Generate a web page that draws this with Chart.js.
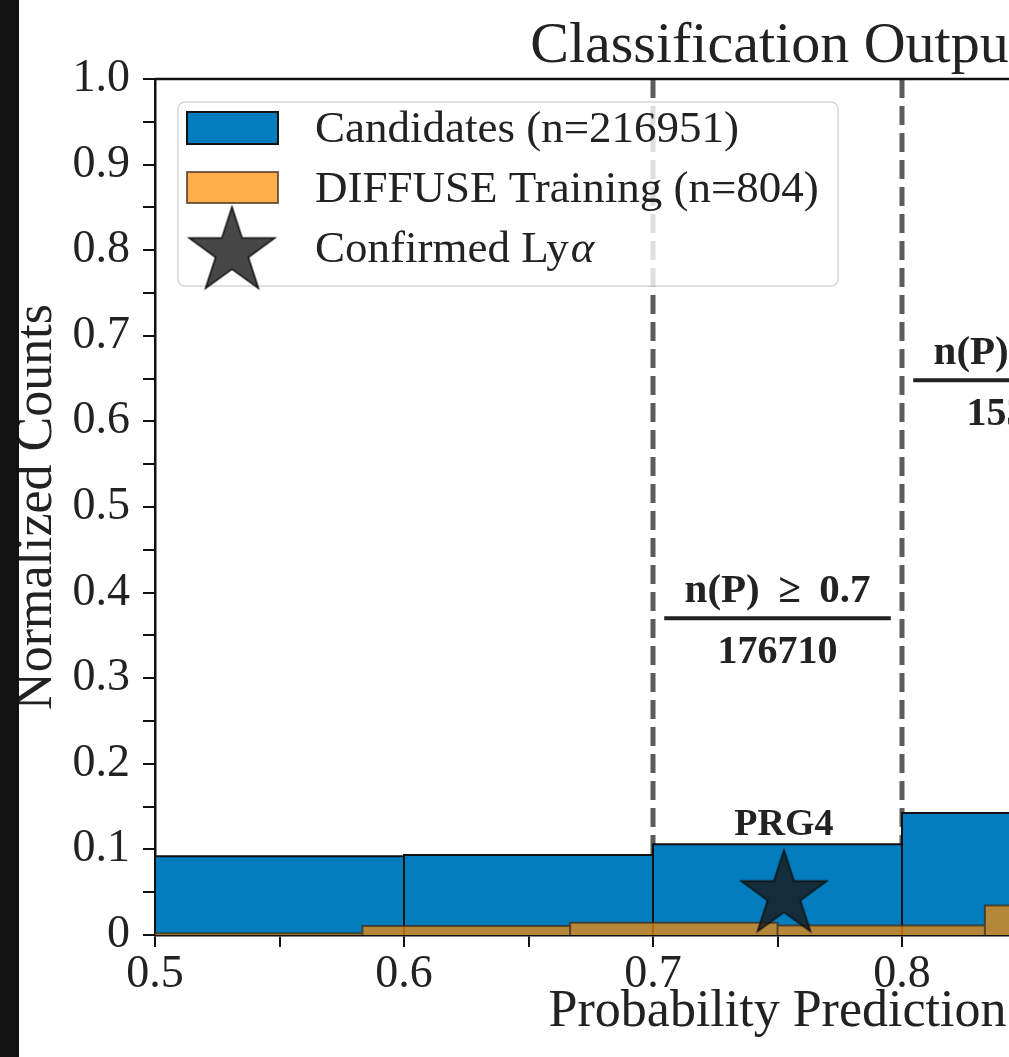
<!DOCTYPE html>
<html>
<head>
<meta charset="utf-8">
<script src="https://cdn.jsdelivr.net/npm/chart.js@4.4.1/dist/chart.umd.min.js"></script>
<style>
  body { margin: 0; background: #121212; overflow: hidden; width: 1009px; height: 1057px; }
  #wrap { position: absolute; left: 19px; top: 0; width: 1441px; height: 1057px; background: #fff; }
</style>
</head>
<body>
<div id="wrap"><canvas id="histChart"></canvas></div>
<script>
// values (normalized counts per bin)
const candEdges = [0.5, 0.6, 0.7, 0.8, 0.9];
const candCounts = [0.092, 0.0935, 0.106, 0.1425];
const trainEdges = [0.5, 0.5833, 0.6667, 0.75, 0.8333, 0.9167];
const trainCounts = [0.002, 0.0105, 0.0143, 0.011, 0.0346];
const confirmedX = [0.7526];
const confirmedY = [0.0467];
const confirmedNames = ['PRG4'];
const confirmedLabelY = [0.117];
const cutValues = [0.7, 0.8];
const cutLabels = ['n(P) \u2009\u2265\u2009 0.7', 'n(P) \u2009\u2265\u2009 0.8'];
const cutCounts = ['176710', '153000'];
const cutLabelY = [0.37, 0.648];
const legendLabels = ['Candidates (n=216951)', 'DIFFUSE Training (n=804)', 'Confirmed Ly'];

const SERIF = '"Liberation Serif", "Times New Roman", serif';
const BLUE = 'rgb(4,125,190)';
const ORANGE = 'rgba(255,140,0,0.7)';
const ORANGE_EDGE = 'rgba(60,40,20,0.7)';
const STAR_FILL = 'rgba(25,25,25,0.8)';

// turn bin edges + heights into an outline, each bar drawn down to zero
function histPath(edges, counts) {
  const pts = [];
  counts.forEach((c, i) => {
    pts.push({x: edges[i], y: 0}, {x: edges[i], y: c}, {x: edges[i + 1], y: c}, {x: edges[i + 1], y: 0});
  });
  return pts;
}

function makeStar(r, fill, lw) {
  const c = document.createElement('canvas');
  const s = Math.ceil(2 * r + 2 * lw + 2);
  c.width = s; c.height = s;
  const g = c.getContext('2d');
  g.translate(s / 2, s / 2);
  g.beginPath();
  for (let k = 0; k < 10; k++) {
    const rad = k % 2 ? r * 0.382 : r;
    const a = -Math.PI / 2 + k * Math.PI / 5;
    g.lineTo(rad * Math.cos(a), rad * Math.sin(a));
  }
  g.closePath();
  g.fillStyle = fill;
  g.fill();
  g.lineWidth = lw;
  g.strokeStyle = '#111';
  g.stroke();
  return c;
}
const starImg = makeStar(45, STAR_FILL, 1.5);

// dashed threshold lines behind the bars
const cutLines = {
  id: 'cutLines',
  beforeDatasetsDraw(chart) {
    const {ctx, chartArea, scales: {x}} = chart;
    ctx.save();
    ctx.strokeStyle = '#5c5c5c';
    ctx.lineWidth = 5;
    ctx.setLineDash([19, 8]);
    cutValues.forEach(v => {
      const px = x.getPixelForValue(v);
      ctx.beginPath();
      ctx.moveTo(px, chartArea.top);
      ctx.lineTo(px, chartArea.bottom);
      ctx.stroke();
    });
    ctx.restore();
  }
};

// fraction labels, star name, legend, title, top spine
const extras = {
  id: 'extras',
  afterDraw(chart) {
    const {ctx, chartArea, scales: {x, y}} = chart;
    ctx.save();

    // n(P) >= cut annotations
    ctx.fillStyle = '#222';
    ctx.strokeStyle = '#222';
    ctx.textAlign = 'center';
    ctx.textBaseline = 'alphabetic';
    cutValues.forEach((v, i) => {
      const cx = x.getPixelForValue(v + 0.05);
      const ly = y.getPixelForValue(cutLabelY[i]);
      ctx.lineWidth = 4;
      ctx.beginPath();
      ctx.moveTo(x.getPixelForValue(v + 0.0045), ly);
      ctx.lineTo(x.getPixelForValue(v + 0.0955), ly);
      ctx.stroke();
      ctx.font = 'bold 41px ' + SERIF;
      ctx.fillText(cutLabels[i], cx, ly - 16);
      ctx.font = 'bold 40px ' + SERIF;
      ctx.fillText(cutCounts[i], cx, ly + 45);
    });

    ctx.font = 'bold 38px ' + SERIF;
    confirmedNames.forEach((n, i) => {
      ctx.fillText(n, x.getPixelForValue(confirmedX[i]), y.getPixelForValue(confirmedLabelY[i]));
    });

    // title
    ctx.font = '58px ' + SERIF;
    ctx.fillText('Classification Output', (chartArea.left + chartArea.right) / 2, 62);

    // top spine
    ctx.lineWidth = 2.5;
    ctx.strokeStyle = '#111';
    ctx.beginPath();
    ctx.moveTo(chartArea.left, chartArea.top);
    ctx.lineTo(chartArea.right, chartArea.top);
    ctx.stroke();

    // legend
    const lx = 159, ly = 102, lw = 660, lh = 184;
    ctx.beginPath();
    ctx.roundRect(lx, ly, lw, lh, 7);
    ctx.fillStyle = 'rgba(255,255,255,0.8)';
    ctx.fill();
    ctx.lineWidth = 1.5;
    ctx.strokeStyle = '#d6d6d6';
    ctx.stroke();

    ctx.lineWidth = 2;
    ctx.fillStyle = BLUE;
    ctx.fillRect(168, 112, 91, 32);
    ctx.strokeStyle = '#111';
    ctx.strokeRect(168, 112, 91, 32);
    ctx.fillStyle = ORANGE;
    ctx.fillRect(168, 172, 91, 31);
    ctx.strokeStyle = ORANGE_EDGE;
    ctx.strokeRect(168, 172, 91, 31);
    ctx.drawImage(starImg, 213 - starImg.width / 2, 252 - starImg.height / 2);

    ctx.fillStyle = '#222';
    ctx.textAlign = 'left';
    ctx.textBaseline = 'middle';
    ctx.font = '45px ' + SERIF;
    ctx.fillText(legendLabels[0], 296, 130);
    ctx.fillText(legendLabels[1], 296, 190);
    ctx.fillText(legendLabels[2], 296, 250);
    const w = ctx.measureText(legendLabels[2]).width;
    ctx.font = 'italic 45px ' + SERIF;
    ctx.fillText('\u03b1', 296 + w + 2, 250);

    ctx.restore();
  }
};

function tickLabel(v) {
  const k = Math.round(v * 100);
  if (k % 10 !== 0) return '';
  return k === 0 ? '0' : (k / 100).toFixed(1);
}

new Chart(document.getElementById('histChart'), {
  type: 'scatter',
  data: {
    datasets: [
      {
        type: 'line',
        label: legendLabels[0],
        order: 3,
        data: histPath(candEdges, candCounts),
        showLine: true,
        backgroundColor: BLUE,
        borderColor: '#111',
        borderWidth: 2,
        borderJoinStyle: 'miter',
        fill: 'origin',
        pointRadius: 0,
        tension: 0
      },
      {
        type: 'line',
        label: legendLabels[1],
        order: 2,
        data: histPath(trainEdges, trainCounts),
        showLine: true,
        backgroundColor: ORANGE,
        borderColor: ORANGE_EDGE,
        borderWidth: 2,
        borderJoinStyle: 'miter',
        fill: 'origin',
        pointRadius: 0,
        tension: 0
      },
      {
        type: 'scatter',
        label: 'Confirmed Ly\u03b1',
        order: 1,
        data: confirmedX.map((v, i) => ({x: v, y: confirmedY[i]})),
        pointStyle: starImg,
        pointRadius: 45
      }
    ]
  },
  options: {
    responsive: true,
    maintainAspectRatio: false,
    animation: false,
    events: [],
    layout: { padding: { left: 0, top: 79, right: 60, bottom: 0 } },
    plugins: {
      legend: { display: false },
      tooltip: { enabled: false }
    },
    scales: {
      x: {
        type: 'linear',
        min: 0.5,
        max: 1.0,
        afterFit(scale) { scale.height = 122; },
        border: { color: '#111', width: 2.5 },
        grid: { drawOnChartArea: false, color: '#111', tickLength: 12, lineWidth: 2 },
        ticks: {
          stepSize: 0.05,
          autoSkip: false,
          maxRotation: 0,
          padding: 0,
          color: '#222',
          font: { family: SERIF, size: 46 },
          callback: tickLabel
        },
        title: {
          display: true,
          text: 'Probability Prediction',
          color: '#222',
          font: { family: SERIF, size: 52, lineHeight: 1 },
          padding: { top: 0, bottom: 19 }
        }
      },
      y: {
        min: 0,
        max: 1.0,
        afterFit(scale) { scale.width = 136; },
        border: { color: '#111', width: 2.5 },
        grid: { drawOnChartArea: false, color: '#111', tickLength: 12, lineWidth: 2 },
        ticks: {
          stepSize: 0.05,
          autoSkip: false,
          padding: 13,
          color: '#222',
          font: { family: SERIF, size: 46 },
          callback: tickLabel
        },
        title: {
          display: true,
          text: 'Normalized Counts',
          color: '#222',
          font: { family: SERIF, size: 52, lineHeight: 0.7 },
          padding: 0
        }
      }
    }
  },
  plugins: [cutLines, extras]
});
</script>
</body>
</html>
